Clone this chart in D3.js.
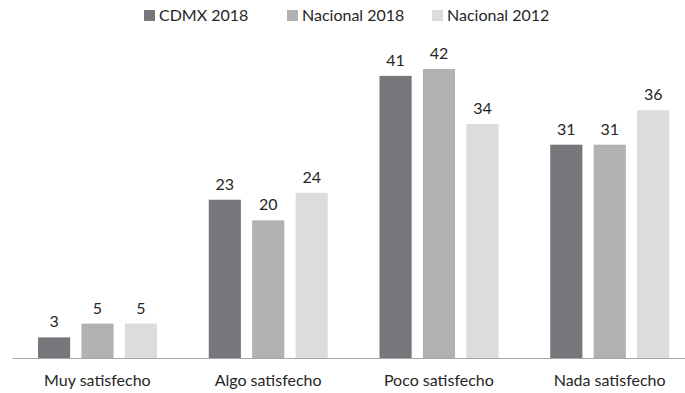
<!DOCTYPE html>
<html>
<head>
<meta charset="utf-8">
<script src="https://cdn.jsdelivr.net/npm/d3@7"></script>
<style>
  html, body { margin: 0; padding: 0; background: #fff; }
  svg { display: block; }
  text { font-family: Lato, "Open Sans", sans-serif; fill: #262626; }
</style>
</head>
<body>
<svg id="chart" width="685" height="393"></svg>
<script>
// Satisfaction categories and the three survey series (percent)
const categories = ["Muy satisfecho", "Algo satisfecho", "Poco satisfecho", "Nada satisfecho"];
const seriesNames = ["CDMX 2018", "Nacional 2018", "Nacional 2012"];
const cdmx2018 = [3, 23, 41, 31];
const nacional2018 = [5, 20, 42, 31];
const nacional2012 = [5, 24, 34, 36];
const seriesColors = ["#77777b", "#b1b1b4", "#dcdcde"];

const seriesValues = [cdmx2018, nacional2018, nacional2012];
const rows = categories.map((c, i) => ({
  category: c,
  values: seriesNames.map((s, k) => ({ series: s, value: seriesValues[k][i] }))
}));

const svg = d3.select("#chart");
const baseY = 358;
const fontSize = 16;

const x0 = d3.scaleBand().domain(categories).range([12, 695]).paddingInner(0).paddingOuter(0);
const x1 = d3.scaleBand().domain(seriesNames).range([26, 145]).paddingInner(0.26).paddingOuter(0);
const y = d3.scaleLinear().domain([0, 42]).range([baseY, 69]);
const color = d3.scaleOrdinal().domain(seriesNames).range(seriesColors);

const groups = svg.append("g").selectAll("g").data(rows).join("g")
  .attr("transform", d => `translate(${x0(d.category)},0)`);

groups.selectAll("rect").data(d => d.values).join("rect")
  .attr("x", d => x1(d.series))
  .attr("y", d => y(d.value))
  .attr("width", x1.bandwidth())
  .attr("height", d => baseY - y(d.value))
  .attr("fill", d => color(d.series));

groups.selectAll("text.val").data(d => d.values).join("text")
  .attr("class", "val")
  .attr("x", d => x1(d.series) + x1.bandwidth() / 2)
  .attr("y", d => y(d.value) - 10)
  .attr("text-anchor", "middle")
  .attr("font-size", fontSize)
  .text(d => d.value);

// baseline axis with category labels
const axis = svg.append("g").attr("transform", `translate(0,${baseY})`)
  .call(d3.axisBottom(x0).tickSize(0).tickPadding(17));
axis.select(".domain").attr("stroke", "#a6a6a6").attr("stroke-width", 1);
axis.selectAll("text").attr("font-size", fontSize).attr("font-family", "Lato, 'Open Sans', sans-serif").attr("fill", "#262626");

// legend
const legendX = [144, 287, 432];
const legend = svg.append("g").selectAll("g").data(seriesNames).join("g")
  .attr("transform", (d, i) => `translate(${legendX[i]},10)`);
legend.append("rect").attr("width", 11).attr("height", 11).attr("fill", d => color(d));
legend.append("text").attr("x", 15).attr("y", 11).attr("font-size", fontSize).text(d => d);
</script>
</body>
</html>
